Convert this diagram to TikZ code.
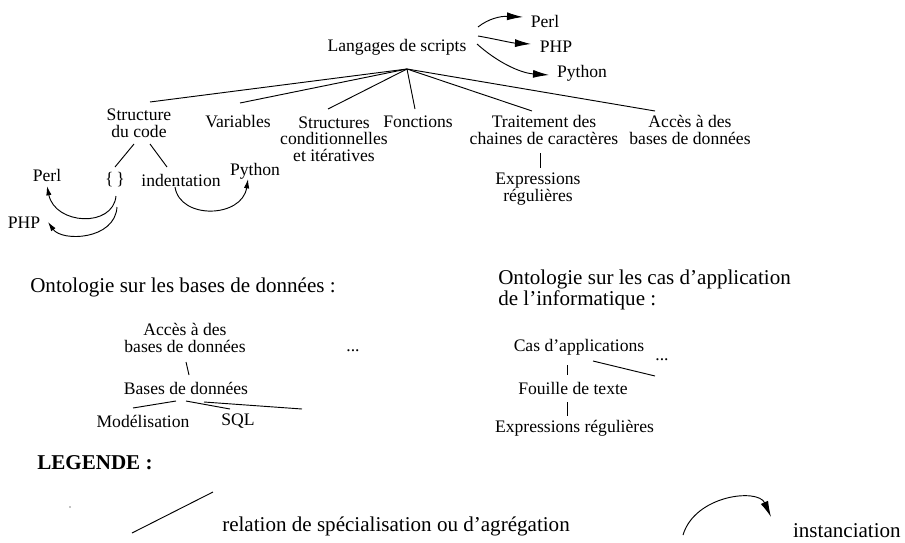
\documentclass[tikz,border=0pt]{standalone}
\usepackage{fontspec}
\setmainfont{Liberation Serif}
\usetikzlibrary{arrows.meta}
\tikzset{
  txt/.style={inner sep=0pt, align=center, font=\fontsize{13.2}{12.4}\selectfont},
  head/.style={inner sep=0pt, align=left, font=\fontsize{15.8}{15.8}\selectfont},
  rel/.style={line width=0.7pt},
  inst/.style={line width=0.7pt, -{Latex[length=12pt,width=6pt]}},
  instsm/.style={line width=0.7pt, -{Latex[length=7pt,width=4pt]}},
}
\begin{document}
\begin{tikzpicture}[x=0.75pt,y=-0.75pt]
\useasboundingbox (0,0) rectangle (905,542);
% --- Langages de scripts ---
\node[txt] (lang) at (397,47) {Langages de scripts};
\node[txt] (perlA) at (545,21) {Perl};
\node[txt] (phpA) at (556,47) {PHP};
\node[txt] (pyA) at (582,73) {Python};
\coordinate (a1s) at (478,27);
\coordinate (a2s) at (478,36);
\coordinate (a3s) at (477,44);
\coordinate (a1e) at (523,17);
\coordinate (a2e) at (531,44);
\coordinate (a3e) at (549,75);
\draw[inst] (a1s) .. controls (488,19) and (500,16) .. (a1e);
\draw[inst] (a2s) .. controls (495,39) and (512,43) .. (a2e);
\draw[inst] (a3s) .. controls (497,62) and (520,73) .. (a3e);

\coordinate (root) at (407,69);
\node[txt] (scode) at (139,123) {Structure\\du code};
\node[txt] (var) at (238,122) {Variables};
\node[txt] (cond) at (334,139) {Structures\\conditionnelles\\et itératives};
\node[txt] (fonc) at (418,122) {Fonctions};
\node[txt] (trait) at (544,130) {Traitement des\\chaines de caractères};
\node[txt] (acces) at (690,130) {Accès à des\\bases de données};
\node[txt] (expr) at (538,189) {Expressions\\régulières};
\coordinate (t1) at (150,102);
\coordinate (t2) at (240,103);
\coordinate (t3) at (328,109);
\coordinate (t4) at (415,109);
\coordinate (t5) at (532,111);
\coordinate (t6) at (655,111);
\draw[rel] (root) -- (t1);
\draw[rel] (root) -- (t2);
\draw[rel] (root) -- (t3);
\draw[rel] (root) -- (t4);
\draw[rel] (root) -- (t5);
\draw[rel] (root) -- (t6);
\coordinate (tr1) at (540,153);
\coordinate (tr2) at (540,168);
\draw[rel] (tr1) -- (tr2);

\node[txt] (brace) at (115,180) {\{\,\}};
\node[txt] (indent) at (181,180) {indentation};
\node[txt] (perlB) at (47,175) {Perl};
\node[txt] (pyB) at (255,171) {Python};
\node[txt] (phpB) at (24,223) {PHP};
\coordinate (s1) at (134,144);
\coordinate (s2) at (115,167);
\coordinate (s3) at (150,144);
\coordinate (s4) at (167,167);
\draw[rel] (s1) -- (s2);
\draw[rel] (s3) -- (s4);
\coordinate (b1) at (116,196);
\coordinate (b1e) at (47,186);
\coordinate (b2) at (117,207);
\coordinate (b2e) at (48,222);
\coordinate (b3) at (175,187);
\coordinate (b3e) at (248,179);
\draw[instsm] (b1) .. controls (113,228) and (55,225) .. (b1e);
\draw[instsm] (b2) .. controls (115,240) and (62,242) .. (b2e);
\draw[instsm] (b3) .. controls (180,220) and (242,218) .. (b3e);

% --- Ontologie bases de donnees ---
\node[head, anchor=west] (h1) at (30,287) {Ontologie sur les bases de données :};
\node[txt] (accesB) at (185,338) {Accès à des\\bases de données};
\node[txt, anchor=base] (dots1) at (353,351) {...};
\node[txt] (bdd) at (186,388) {Bases de données};
\node[txt] (model) at (143,421) {Modélisation};
\node[txt] (sql) at (238,421) {SQL};
\coordinate (o1) at (186,362);
\coordinate (o2) at (189,375);
\draw[rel] (o1) -- (o2);
\coordinate (m1) at (176,401);
\coordinate (m2) at (133,408);
\coordinate (m3) at (186,401);
\coordinate (m4) at (230,409);
\coordinate (m5) at (204,402);
\coordinate (m6) at (302,409);
\draw[rel] (m1) -- (m2);
\draw[rel] (m3) -- (m4);
\draw[rel] (m5) -- (m6);

% --- Ontologie cas d'application ---
\node[head, anchor=west] (h2) at (498,289.5) {Ontologie sur les cas d’application\\de l’informatique :};
\node[txt] (cas) at (579,347) {Cas d’applications};
\node[txt, anchor=base] (dots2) at (662,360) {...};
\node[txt] (fouille) at (573,388) {Fouille de texte};
\node[txt] (exprB) at (574.5,428) {Expressions régulières};
\coordinate (c1) at (593,361);
\coordinate (c2) at (655,376);
\draw[rel] (c1) -- (c2);
\coordinate (c3) at (567,365);
\coordinate (c4) at (567,375);
\draw[rel] (c3) -- (c4);
\coordinate (c5) at (567,402);
\coordinate (c6) at (567,416);
\draw[rel] (c5) -- (c6);

% --- Legende ---
\node[head, anchor=west, font=\bfseries\fontsize{15.8}{15.8}\selectfont] (leg) at (37,463) {LEGENDE :};
\fill (70,507) circle (0.6);
\coordinate (l1) at (132,533);
\coordinate (l2) at (213,492);
\draw[rel] (l1) -- (l2);
\node[head, anchor=west] (reltxt) at (222,526) {relation de spécialisation ou d’agrégation};
\coordinate (la) at (683,535);
\coordinate (lb) at (771,517);
\draw[inst] (la) .. controls (695,495) and (758,488) .. (lb);
\node[head, anchor=east] (insttxt) at (901,531) {instanciation};
\end{tikzpicture}
\end{document}
